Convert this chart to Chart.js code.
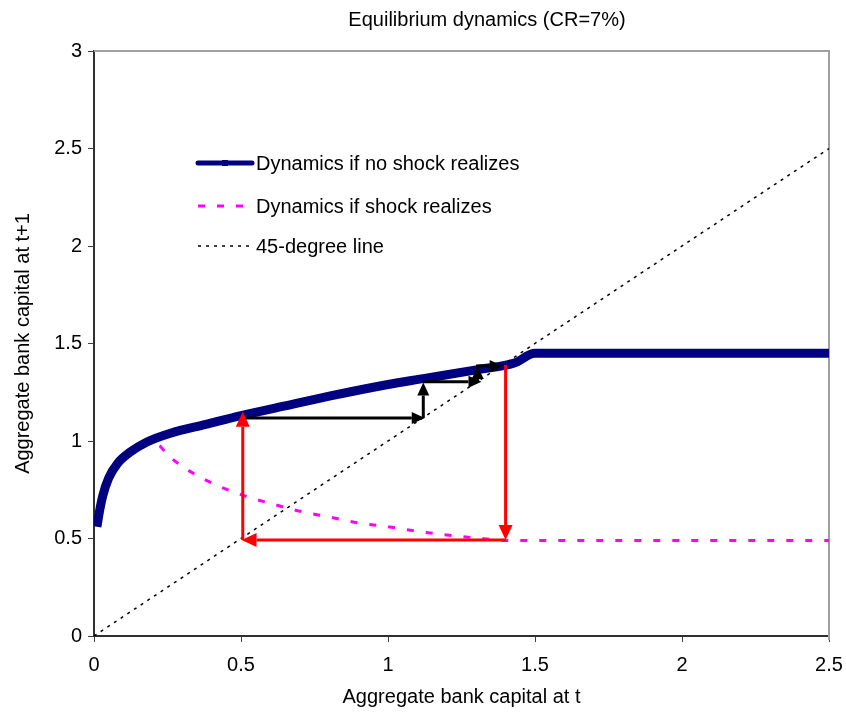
<!DOCTYPE html>
<html>
<head>
<meta charset="utf-8">
<script src="https://cdn.jsdelivr.net/npm/chart.js@4.4.1/dist/chart.umd.min.js"></script>
<style>
  body { margin: 0; background: #fff; }
  canvas { display: block; }
</style>
</head>
<body>
<canvas id="myChart" width="846" height="712"></canvas>
<script>
// dinámica sin shock
const noShockX = [0.01, 0.02, 0.03, 0.05, 0.08, 0.12, 0.18, 0.26, 0.38, 0.5, 0.65, 0.8, 1.0, 1.12, 1.3, 1.43, 1.5, 2.5];
const noShockY = [0.56, 0.65, 0.72, 0.81, 0.885, 0.94, 0.995, 1.04, 1.085, 1.13, 1.18, 1.23, 1.29, 1.32, 1.365, 1.40, 1.45, 1.45];
// dinámica con shock
const shockX = [0.01, 0.05, 0.08, 0.12, 0.18, 0.22, 0.25, 0.3, 0.4, 0.5, 0.6, 0.7, 0.8, 0.9, 1.0, 1.1, 1.2, 1.3, 1.4, 2.5];
const shockY = [0.58, 0.81, 0.885, 0.94, 0.995, 0.98, 0.93, 0.87, 0.785, 0.725, 0.68, 0.64, 0.61, 0.58, 0.56, 0.537, 0.518, 0.503, 0.49, 0.49];
// recta de 45 grados
const diagX = [0, 2.5];
const diagY = [0, 2.5];

const xTicks = [0, 0.5, 1, 1.5, 2, 2.5];
const yTicks = [0, 0.5, 1, 1.5, 2, 2.5, 3];

// flechas [x0, y0, x1, y1]
const blackArrows = [
  [0.507, 1.118, 1.125, 1.118],
  [1.12, 1.118, 1.12, 1.30],
  [1.12, 1.304, 1.318, 1.304],
  [1.305, 1.304, 1.305, 1.385],
  [1.30, 1.385, 1.39, 1.385]
];
const redArrows = [
  [0.506, 0.492, 0.506, 1.15],
  [1.40, 0.492, 0.502, 0.492],
  [1.40, 1.39, 1.40, 0.492]
];

const seriesNames = ['Dynamics if no shock realizes', 'Dynamics if shock realizes', '45-degree line'];
const chartTitle = 'Equilibrium dynamics (CR=7%)';
const FONT = "'Liberation Sans', Arial, sans-serif";
const FSIZE = 20;

function toPoints(xs, ys) {
  return xs.map((x, i) => ({ x: x, y: ys[i] }));
}

function drawArrow(ctx, x0, y0, x1, y1, color, width, len, half) {
  const ang = Math.atan2(y1 - y0, x1 - x0);
  const bx = x1 - len * Math.cos(ang);
  const by = y1 - len * Math.sin(ang);
  ctx.strokeStyle = color;
  ctx.lineWidth = width;
  ctx.lineCap = 'butt';
  ctx.beginPath();
  ctx.moveTo(x0, y0);
  ctx.lineTo(bx, by);
  ctx.stroke();
  ctx.fillStyle = color;
  ctx.beginPath();
  ctx.moveTo(x1, y1);
  ctx.lineTo(bx + half * Math.sin(ang), by - half * Math.cos(ang));
  ctx.lineTo(bx - half * Math.sin(ang), by + half * Math.cos(ang));
  ctx.closePath();
  ctx.fill();
}

const extras = {
  id: 'extras',
  beforeDatasetsDraw(chart) {
    // marco gris arriba y a la derecha
    const { ctx, chartArea: a } = chart;
    ctx.save();
    ctx.strokeStyle = '#a0a0a0';
    ctx.lineWidth = 2;
    ctx.beginPath();
    ctx.moveTo(a.left, a.top);
    ctx.lineTo(a.right, a.top);
    ctx.lineTo(a.right, a.bottom + 4);
    ctx.stroke();
    ctx.restore();
  },
  afterDatasetsDraw(chart) {
    const { ctx } = chart;
    const xs = chart.scales.x, ys = chart.scales.y;
    ctx.save();
    blackArrows.forEach(a => drawArrow(ctx,
      xs.getPixelForValue(a[0]), ys.getPixelForValue(a[1]),
      xs.getPixelForValue(a[2]), ys.getPixelForValue(a[3]), '#000', 3, 13, 6));
    redArrows.forEach(a => drawArrow(ctx,
      xs.getPixelForValue(a[0]), ys.getPixelForValue(a[1]),
      xs.getPixelForValue(a[2]), ys.getPixelForValue(a[3]), '#ff0000', 3, 15, 7));
    ctx.restore();
  },
  afterDraw(chart) {
    const { ctx } = chart;
    const ds = chart.data.datasets;
    ctx.save();
    // título
    ctx.fillStyle = '#000';
    ctx.font = FSIZE + 'px ' + FONT;
    ctx.textAlign = 'center';
    ctx.textBaseline = 'middle';
    ctx.fillText(chartTitle, 487, 20);

    // leyenda dentro del gráfico
    const rows = [163, 206, 246];
    const x0 = 198, x1 = 252;
    ctx.textAlign = 'left';
    ds.forEach((d, i) => {
      const y = rows[i];
      ctx.strokeStyle = d.borderColor;
      ctx.lineWidth = i === 0 ? 5 : d.borderWidth;
      ctx.lineCap = i === 0 ? 'round' : 'butt';
      ctx.setLineDash(d.borderDash || []);
      ctx.beginPath();
      ctx.moveTo(x0, y);
      ctx.lineTo(x1, y);
      ctx.stroke();
      ctx.setLineDash([]);
      if (i === 0) {
        ctx.fillStyle = d.borderColor;
        ctx.fillRect(225 - 3, y - 3, 6, 6);
      }
      ctx.fillStyle = '#000';
      ctx.fillText(d.label, 256, y + 1);
    });
    ctx.restore();
  }
};

const ctx = document.getElementById('myChart').getContext('2d');
const myChart = new Chart(ctx, {
  type: 'line',
  data: {
    datasets: [
      {
        label: seriesNames[0],
        data: toPoints(noShockX, noShockY),
        borderColor: '#000080',
        borderWidth: 9,
        borderCapStyle: 'butt',
        cubicInterpolationMode: 'monotone',
        pointRadius: 0,
        order: 1
      },
      {
        label: seriesNames[1],
        data: toPoints(shockX, shockY),
        borderColor: '#ff00ff',
        borderWidth: 3,
        borderDash: [7, 12],
        cubicInterpolationMode: 'monotone',
        pointRadius: 0,
        order: 2
      },
      {
        label: seriesNames[2],
        data: toPoints(diagX, diagY),
        borderColor: '#000000',
        borderWidth: 1.5,
        borderDash: [3, 5],
        pointRadius: 0,
        order: 0
      }
    ]
  },
  options: {
    responsive: false,
    devicePixelRatio: 1,
    animation: false,
    events: [],
    layout: { padding: { top: 51, right: 17, left: 0, bottom: 0 } },
    plugins: {
      legend: { display: false },
      title: { display: false },
      tooltip: { enabled: false }
    },
    scales: {
      x: {
        type: 'linear',
        min: 0,
        max: 2.5,
        afterBuildTicks: s => { s.ticks = xTicks.map(v => ({ value: v })); },
        afterFit: s => { s.height = 76; s.paddingLeft = 0; s.paddingRight = 0; },
        ticks: { color: '#000', font: { family: FONT, size: FSIZE }, padding: 11, maxRotation: 0, callback: v => String(v) },
        grid: { display: true, drawOnChartArea: false, drawTicks: true, tickLength: 6, color: '#404040', lineWidth: 1 },
        border: { display: true, color: '#303030', width: 2 },
        title: {
          display: true,
          text: 'Aggregate bank capital at t',
          color: '#000',
          font: { family: FONT, size: FSIZE },
          padding: { top: 11, bottom: 3 }
        }
      },
      y: {
        type: 'linear',
        min: 0,
        max: 3,
        afterBuildTicks: s => { s.ticks = yTicks.map(v => ({ value: v })); },
        afterFit: s => { s.width = 94; s.paddingTop = 0; s.paddingBottom = 0; },
        ticks: { color: '#000', font: { family: FONT, size: FSIZE }, padding: 6, callback: v => String(v) },
        grid: { display: true, drawOnChartArea: false, drawTicks: true, tickLength: 6, color: '#404040', lineWidth: 1 },
        border: { display: true, color: '#303030', width: 2 },
        title: {
          display: true,
          text: 'Aggregate bank capital at t+1',
          color: '#000',
          font: { family: FONT, size: FSIZE },
          padding: { top: 11, bottom: 3 }
        }
      }
    }
  },
  plugins: [extras]
});
</script>
</body>
</html>
